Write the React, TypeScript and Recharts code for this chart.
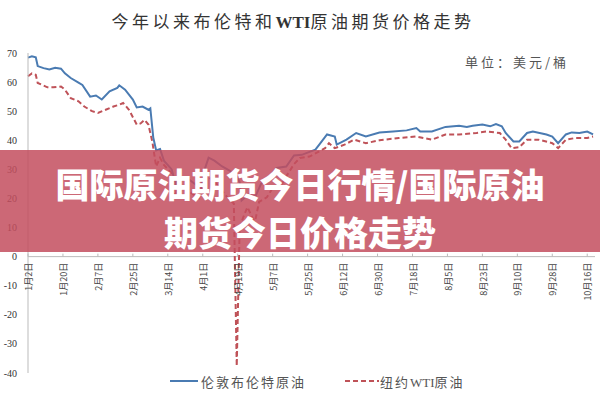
import { LineChart, Line, XAxis, YAxis, ReferenceLine } from 'recharts';

// x = calendar days counted from 2 Jan; one tick label every 18 days
const tickDays = [0, 18, 36, 54, 72, 90, 108, 126, 144, 162, 180, 198, 216, 234, 252, 270, 288];
const tickLabels = ['1月2日', '1月20日', '2月7日', '2月25日', '3月14日', '4月1日', '4月19日', '5月7日', '5月25日', '6月12日', '6月30日', '7月18日', '8月5日', '8月23日', '9月10日', '9月28日', '10月16日'];
const yTicks = [70, 60, 50, 40, 30, 20, 10, 0, -10, -20, -30, -40];

const brentDays = [0, 2, 4, 5, 8, 11, 14, 17, 19, 22, 26, 28, 32, 35, 38, 42, 46, 47, 50, 54, 56, 59, 62, 63, 64.5, 66, 68, 70, 74, 76, 78, 82, 86, 89, 91, 93, 96, 100, 104, 107, 109, 110, 112, 114, 117, 120, 124, 128, 133, 137, 141, 145, 148, 150, 154, 158, 159, 164, 169, 174, 181, 188, 195, 200, 202, 208, 215, 222, 226, 229, 234, 238, 241, 244, 246, 250, 253, 257, 260, 267, 270, 273, 277, 280, 284, 288, 291];
const brentValues = [68.4, 68.9, 68.5, 65.5, 64.8, 64.3, 64.9, 64.6, 63, 61.4, 59.8, 59, 55, 55.4, 54, 56.8, 58, 58.9, 57.4, 54, 51.3, 51.6, 50.5, 51, 41, 36.5, 37, 33, 30, 25, 27.5, 27, 25, 23, 30, 34, 33, 31, 29.5, 28, 25.6, 19.3, 20.5, 21.5, 20.5, 25, 27, 30.5, 31, 34.8, 35, 36, 36.8, 38.5, 42, 41.3, 38.5, 40.2, 42.5, 41.3, 42.7, 43, 43.4, 44.2, 43, 43, 44.6, 45, 44.6, 45, 45.4, 44.8, 45.6, 44.8, 42.5, 39.6, 39.6, 42.5, 43, 42, 41.3, 39, 42, 42.7, 42.5, 43, 42];

const wtiDays = [0, 2, 4, 5, 10, 13, 17, 19, 22, 26, 29, 33, 36, 40, 44, 47, 49, 52, 56, 58, 60, 62, 64, 66, 68, 70, 74, 76, 77, 78, 81, 85, 88, 91, 92, 95, 97, 103, 106, 107.5, 109, 111, 113, 116, 117, 119, 123, 126, 130, 133, 137, 140, 145, 148, 153, 155, 158, 163, 168, 174, 181, 191, 200, 208, 215, 222, 231, 236, 243, 246, 249, 253, 257, 263, 270, 273, 277, 282, 288, 291];
const wtiValues = [62, 63, 62.5, 59.7, 58.2, 58.2, 58.5, 57.4, 54.5, 53.4, 51.6, 50, 49.4, 50.5, 51.6, 52.2, 52.8, 50.5, 45.4, 45.8, 47, 45.4, 39.6, 31, 34, 31.5, 28.7, 20.4, 25.2, 22.4, 23.4, 21.5, 20.1, 25.3, 28.3, 26.1, 25.1, 20.1, 18.3, -37.6, 10, 13.8, 17, 12.8, 12.3, 18.8, 20.4, 23.6, 24.1, 27.6, 31.8, 33.9, 34.4, 35.5, 37.3, 39, 37.3, 38.5, 40.2, 39, 40, 40.8, 41.3, 40.2, 42, 42, 42.5, 43, 42.5, 40.2, 37.3, 37.6, 40.2, 40.2, 39, 37.3, 40.2, 40.8, 40.8, 41.3];

const brentData = brentDays.map((d, i) => ({ day: d, v: brentValues[i] }));
const wtiData = wtiDays.map((d, i) => ({ day: d, v: wtiValues[i] }));

const PLOT_TOP = 53;
const PLOT_H = 320;
const ZERO_Y = PLOT_TOP + (PLOT_H * 70) / 110;

const BLUE = '#4a7bb2';
const RED = '#bf5258';

const XTick = (props: any) => {
  const { x, payload } = props;
  const idx = tickDays.indexOf(payload.value);
  return (
    <g>
      <line x1={x} x2={x} y1={ZERO_Y - 3} y2={ZERO_Y} stroke="#bbb" />
      <text
        transform={`translate(${x + 1},${ZERO_Y + 6}) rotate(-90)`}
        textAnchor="end"
        dy="0.35em"
        fontSize={9}
        fill="#444"
        fontFamily="'Noto Sans CJK SC', sans-serif"
      >
        {tickLabels[idx]}
      </text>
    </g>
  );
};

const YTick = (props: any) => {
  const { y, payload } = props;
  return (
    <text x={17} y={y} dy="0.35em" textAnchor="end" fontSize={10} fill="#333" fontFamily="'Liberation Serif', serif">
      {payload.value}
    </text>
  );
};

export default function App() {
  return (
    <div style={{ position: 'absolute', left: 0, top: 0, width: 600, height: 400, background: '#fff', overflow: 'hidden' }}>
      <div
        style={{
          position: 'absolute', top: 8, left: 0, width: 586, textAlign: 'center',
          fontFamily: "'Noto Sans CJK SC', sans-serif", fontSize: 17, letterSpacing: 3.5, color: '#333',
        }}
      >
        今年以来布伦特和<span style={{ fontFamily: "'Liberation Serif', serif", fontWeight: 'bold', letterSpacing: 0 }}>WTI</span>原油期货价格走势
      </div>
      <div
        style={{
          position: 'absolute', top: 52, left: 465, fontFamily: "'Noto Sans CJK SC', sans-serif",
          fontSize: 13, letterSpacing: 3, color: '#555',
        }}
      >
        单位：美元/桶
      </div>
      <LineChart width={600} height={400} data={brentData} margin={{ top: PLOT_TOP, right: 5, bottom: 0, left: 0 }}>
        <XAxis
          dataKey="day"
          type="number"
          domain={[0, 292]}
          ticks={tickDays}
          interval={0}
          height={27}
          axisLine={false}
          tickLine={false}
          tick={<XTick />}
        />
        <YAxis
          type="number"
          domain={[-40, 70]}
          ticks={yTicks}
          interval={0}
          width={28}
          axisLine={{ stroke: '#bbb' }}
          tickLine={false}
          tick={<YTick />}
        />
        <ReferenceLine y={0} stroke="#bbb" />
        <Line data={wtiData} dataKey="v" type="linear" stroke={RED} strokeWidth={2} strokeDasharray="5 3" dot={false} isAnimationActive={false} />
        <Line data={brentData} dataKey="v" type="linear" stroke={BLUE} strokeWidth={2} dot={false} isAnimationActive={false} />
      </LineChart>
      <div
        style={{
          position: 'absolute', top: 150, left: 0, width: 600, height: 102, background: 'rgba(195,78,94,0.85)',
          color: '#fff', textAlign: 'center', fontFamily: "'Noto Sans CJK SC', sans-serif", fontWeight: 900,
          fontSize: 34, lineHeight: '48px', paddingTop: 10, boxSizing: 'border-box',
        }}
      >
        国际原油期货今日行情/国际原油
        <br />
        期货今日价格走势
      </div>
      <div
        style={{
          position: 'absolute', top: 372, left: 0, width: 600, height: 20, fontFamily: "'Noto Sans CJK SC', sans-serif",
          fontSize: 13, color: '#555', letterSpacing: 2,
        }}
      >
        <svg style={{ position: 'absolute', left: 170, top: 7 }} width={28} height={4}>
          <line x1={0} x2={28} y1={2} y2={2} stroke={BLUE} strokeWidth={2} />
        </svg>
        <span style={{ position: 'absolute', left: 201, top: 0 }}>伦敦布伦特原油</span>
        <svg style={{ position: 'absolute', left: 345, top: 7 }} width={34} height={4}>
          <line x1={0} x2={34} y1={2} y2={2} stroke={RED} strokeWidth={2} strokeDasharray="5 3" />
        </svg>
        <span style={{ position: 'absolute', left: 380, top: 0 }}>
          纽约<span style={{ fontFamily: "'Liberation Serif', serif", letterSpacing: 0 }}>WTI</span>原油
        </span>
      </div>
    </div>
  );
}
